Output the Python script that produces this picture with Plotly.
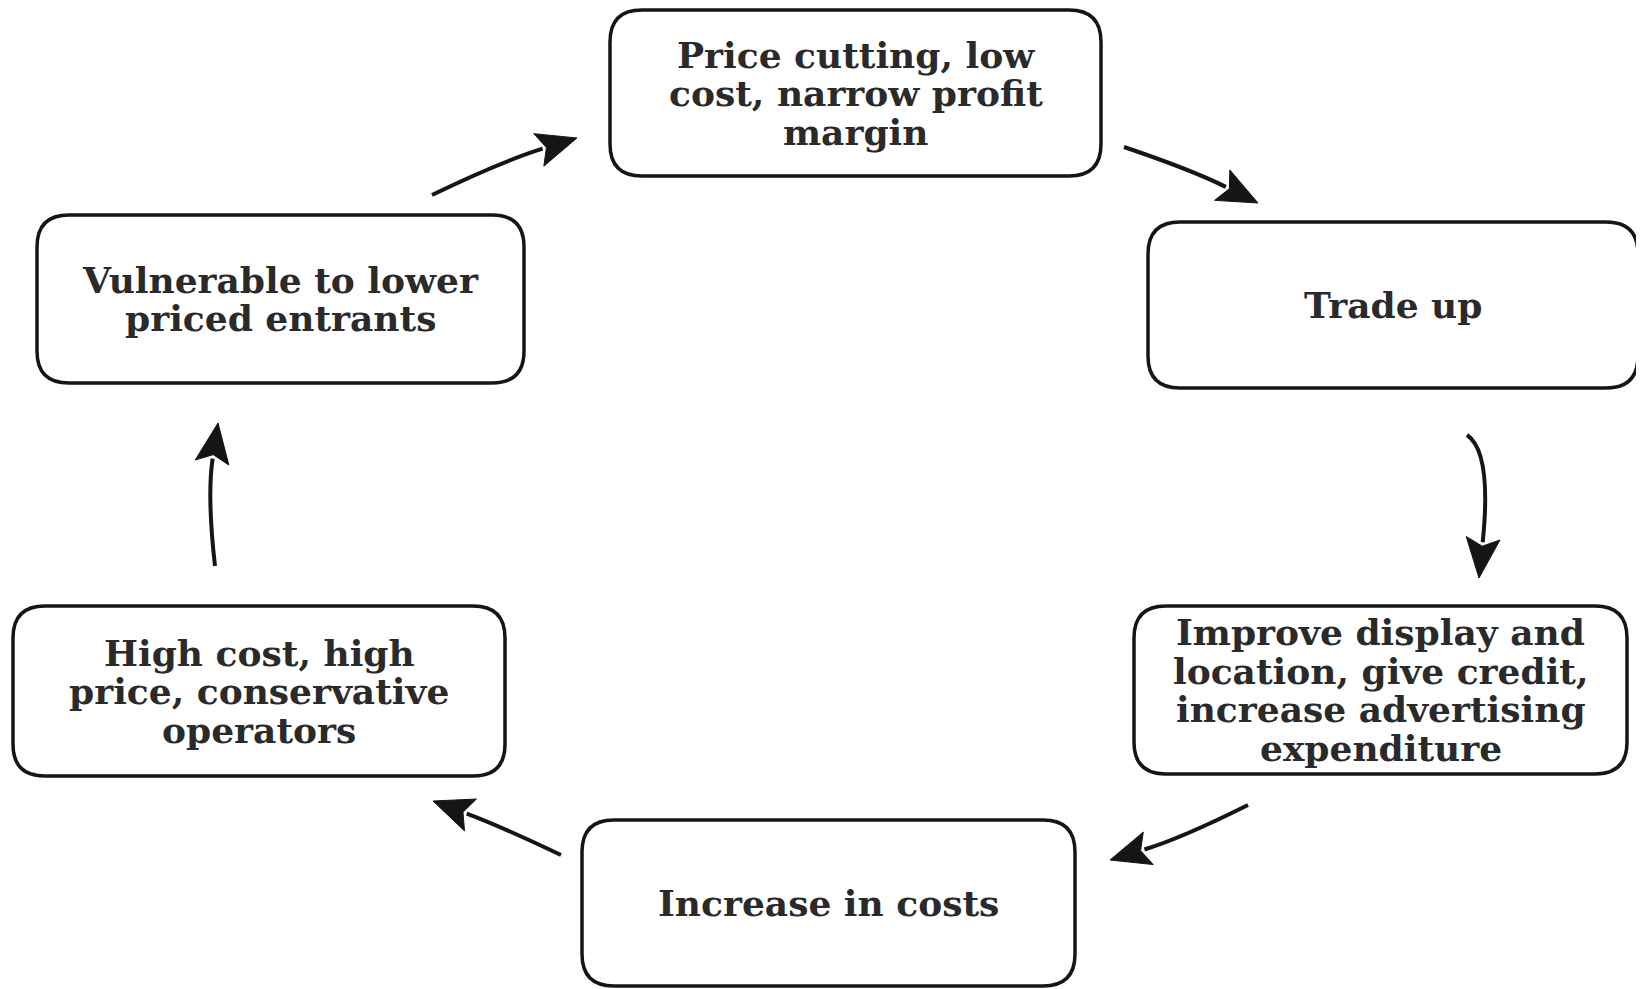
import plotly.graph_objects as go
import math

# ---- data: diagram nodes (text) ----
node_labels = [
    "Price cutting, low<br>cost, narrow profit<br>margin",
    "Trade up",
    "Improve display and<br>location, give credit,<br>increase advertising<br>expenditure",
    "Increase in costs",
    "High cost, high<br>price, conservative<br>operators",
    "Vulnerable to lower<br>priced entrants",
]
# cycle order: each node points to the next
edges_from = [0, 1, 2, 3, 4, 5]
edges_to = [1, 2, 3, 4, 5, 0]

# ---- layout (pixel canvas; page body has an 8px margin) ----
W, H = 1644, 989
OFF = 8
box_x0 = [610, 1148, 1134, 582, 13, 37]
box_x1 = [1101, 1638, 1627, 1075, 505, 524]
box_y0 = [10, 222, 606, 820, 606, 215]
box_y1 = [176, 388, 774, 986, 776, 383]
radius = 32
line_gap = 38.5
font_size = 36

# arrows: start, control, tip (one per edge)
arrow_start = [(1124, 147), (1467, 435), (1248, 805), (561, 855), (215, 566), (432, 195)]
arrow_ctrl = [(1192, 170), (1492, 452), (1182, 838), (500, 826), (207, 496), (500, 162)]
arrow_tip = [(1258, 203), (1479, 578), (1110, 860), (433, 801), (218, 423), (577, 138)]


def rounded_rect(x0, y0, x1, y1, r):
    return (f"M {x0+r},{y0} L {x1-r},{y0} Q {x1},{y0} {x1},{y0+r} "
            f"L {x1},{y1-r} Q {x1},{y1} {x1-r},{y1} L {x0+r},{y1} "
            f"Q {x0},{y1} {x0},{y1-r} L {x0},{y0+r} Q {x0},{y0} {x0+r},{y0} Z")


fig = go.Figure()
shapes = []
annotations = []

for i, label in enumerate(node_labels):
    shapes.append(dict(type="path", xref="x", yref="y",
                       path=rounded_rect(box_x0[i], box_y0[i], box_x1[i], box_y1[i], radius),
                       line=dict(color="#151515", width=3.5), fillcolor="rgba(255,255,255,0)"))
    lines = label.split("<br>")
    cx = (box_x0[i] + box_x1[i]) / 2
    cy = (box_y0[i] + box_y1[i]) / 2
    n = len(lines)
    for k, ln in enumerate(lines):
        y = cy + (k - (n - 1) / 2) * line_gap
        annotations.append(dict(x=cx, y=y, xref="x", yref="y", text=ln, showarrow=False,
                                xanchor="center", yanchor="middle",
                                font=dict(family="DejaVu Serif", size=font_size,
                                          color="#2a2a2a", weight="bold")))

head_len, head_half = 40, 17
for e in range(len(edges_from)):
    (sx, sy), (qx, qy), (tx, ty) = arrow_start[e], arrow_ctrl[e], arrow_tip[e]
    dx, dy = tx - qx, ty - qy
    d = math.hypot(dx, dy)
    ux, uy = dx / d, dy / d
    bx, by = tx - ux * head_len, ty - uy * head_len
    px, py = -uy, ux
    shapes.append(dict(type="path", xref="x", yref="y",
                       path=f"M {sx},{sy} Q {qx},{qy} {bx + ux*4},{by + uy*4}",
                       line=dict(color="#151515", width=4)))
    shapes.append(dict(type="path", xref="x", yref="y",
                       path=(f"M {tx},{ty} L {bx + px*head_half},{by + py*head_half} "
                             f"L {bx + ux*8},{by + uy*8} L {bx - px*head_half},{by - py*head_half} Z"),
                       line=dict(color="#151515", width=1), fillcolor="#151515"))

fig.update_layout(
    width=W - OFF, height=H - OFF,
    margin=dict(l=0, r=0, t=0, b=0),
    paper_bgcolor="white", plot_bgcolor="white",
    xaxis=dict(range=[OFF, W], visible=False, fixedrange=True),
    yaxis=dict(range=[H, OFF], visible=False, fixedrange=True),
    shapes=shapes, annotations=annotations, showlegend=False,
)

fig.write_html("out.html")
